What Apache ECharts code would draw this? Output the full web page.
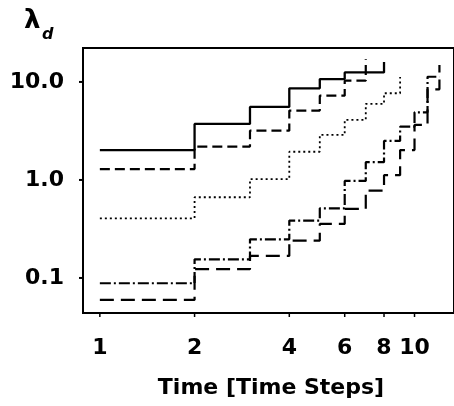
<!DOCTYPE html>
<html>
<head>
<meta charset="utf-8">
<script src="https://cdn.jsdelivr.net/npm/echarts@6/dist/echarts.min.js"></script>
<style>
html, body { margin: 0; padding: 0; background: #fff; }
#chart { width: 454px; height: 406px; }
</style>
</head>
<body>
<div id="chart"></div>
<script>
// time steps and the lambda_d value held from each step to the next
var steps = [1, 2, 3, 4, 5, 6, 7, 8, 9, 10, 11, 12];
var solidTop = [2.02, 3.73, 5.56, 8.6, 10.7, 12.5, 12.5, 16];
var dashTop = [1.29, 2.19, 3.18, 5.1, 7.25, 10.3, 17];
var dotted = [0.406, 0.666, 1.02, 1.94, 2.88, 4.1, 5.97, 7.67, 11.2];
var dashDot = [0.0883, 0.155, 0.248, 0.385, 0.514, 0.977, 1.52, 2.5, 3.5, 4.9, 11.3, 11.3];
var longDash = [0.0597, 0.123, 0.168, 0.24, 0.356, 0.506, 0.778, 1.12, 2.02, 3.64, 8.4, 14.9];

var xTicks = [1, 2, 4, 6, 8, 10];
var yTicks = [0.1, 1, 10];

var labelFont = 'DejaVu Sans';

function pairs(vals) {
    return vals.map(function (v, i) { return [steps[i], v]; });
}

function stepLine(vals, dash, width) {
    return {
        type: 'line',
        step: 'end',
        symbol: 'none',
        silent: true,
        data: pairs(vals),
        lineStyle: { color: '#000', width: width || 2.2, type: dash }
    };
}

var chart = echarts.init(document.getElementById('chart'));

var option = {
    animation: false,
    backgroundColor: '#fff',
    grid: {
        left: 83, top: 48, right: -5, bottom: 93,
        show: true, borderColor: '#000', borderWidth: 2
    },
    xAxis: {
        type: 'log',
        min: 0.884, max: 13.35,
        axisLine: { show: true, lineStyle: { color: '#000', width: 2 } },
        axisTick: { show: false },
        axisLabel: { show: false },
        splitLine: { show: false }
    },
    yAxis: {
        type: 'log',
        min: 0.0439, max: 22.2,
        axisLine: { show: true, lineStyle: { color: '#000', width: 2 } },
        axisTick: { show: false },
        splitLine: { show: false },
        axisLabel: {
            margin: 19,
            showMinLabel: false,
            showMaxLabel: false,
            color: '#000',
            fontFamily: labelFont,
            fontWeight: 'bold',
            fontSize: 22,
            formatter: function (v) { return v.toFixed(1); }
        }
    },
    series: [
        stepLine(solidTop, 'solid', 2.3),
        stepLine(dashTop, [10, 5]),
        stepLine(dotted, [2, 3], 1.8),
        stepLine(dashDot, [11, 3, 2, 3]),
        stepLine(longDash, [14, 7])
    ]
};

chart.setOption(option);

// ticks and x labels placed through the axis scales
var gfx = [];
var rect = chart.getModel().getComponent('grid').coordinateSystem.getRect();
var bottomY = rect.y + rect.height;
var leftX = rect.x;

xTicks.forEach(function (v) {
    var px = chart.convertToPixel({ xAxisIndex: 0 }, v);
    gfx.push({
        type: 'line', silent: true,
        shape: { x1: px, y1: bottomY, x2: px, y2: bottomY + 4 },
        style: { stroke: '#000', lineWidth: 1.5 }
    });
    gfx.push({
        type: 'text', silent: true,
        x: px, y: bottomY + 35,
        style: {
            text: String(v), fill: '#000',
            font: 'bold 22px "' + labelFont + '"',
            align: 'center', verticalAlign: 'middle'
        }
    });
});

yTicks.forEach(function (v) {
    var py = chart.convertToPixel({ yAxisIndex: 0 }, v);
    gfx.push({
        type: 'line', silent: true,
        shape: { x1: leftX - 4, y1: py, x2: leftX, y2: py },
        style: { stroke: '#000', lineWidth: 2 }
    });
});

gfx.push({
    type: 'text', silent: true,
    x: 271, y: 388,
    style: {
        text: 'Time [Time Steps]', fill: '#000',
        font: 'bold 22px "' + labelFont + '"',
        align: 'center', verticalAlign: 'middle'
    }
});
gfx.push({
    type: 'text', silent: true,
    x: 24, y: 21,
    style: {
        text: 'λ', fill: '#000',
        font: 'bold 26px "' + labelFont + '"',
        align: 'left', verticalAlign: 'middle'
    }
});
gfx.push({
    type: 'text', silent: true,
    x: 42, y: 35,
    style: {
        text: 'd', fill: '#000',
        font: 'italic bold 16px "' + labelFont + '"',
        align: 'left', verticalAlign: 'middle'
    }
});

chart.setOption({ graphic: gfx });
</script>
</body>
</html>
